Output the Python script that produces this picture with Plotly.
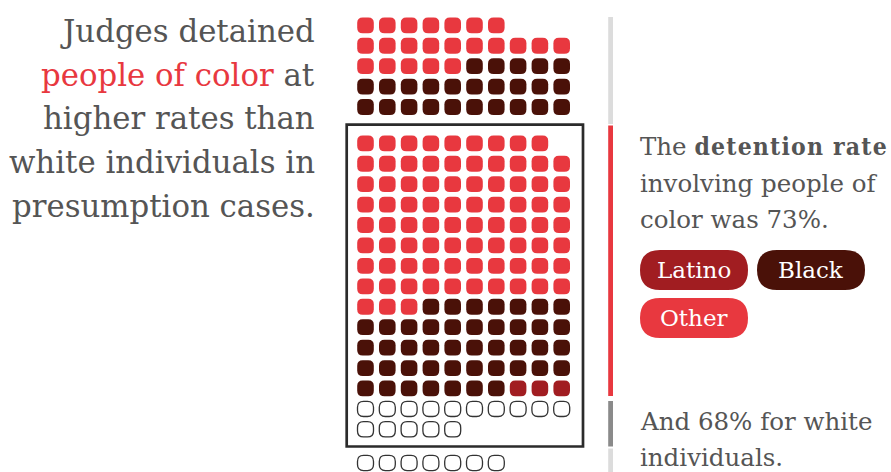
import math
import plotly.graph_objects as go

# one square per presumption case
groups = ["Other", "Black", "Latino"]
poc_released = [22, 25, 0]   # people of color, not detained
poc_detained = [82, 44, 3]   # people of color, detained
white_detained = 15
white_released = 7

title_lines = [
    "Judges detained",
    "<span style='color:#e8383f'>people of color</span> at",
    "higher rates than",
    "white individuals in",
    "presumption cases.",
]
poc_text = [
    "The <span style='font-family:DejaVu Serif Condensed;font-weight:bold;letter-spacing:1.2px'>detention rate</span>",
    "involving people of",
    "color was 73%.",
]
white_text = ["And 68% for white", "individuals."]

colors = {"Other": "#e8383f", "Black": "#4a1108", "Latino": "#a11d21"}
TEXT = "#555555"
FONT = "DejaVu Serif"

# grid geometry (pixels)
COLS = 10
X0, DX, DY = 365.5, 21.8, 20.43
CW, CH, CR = 16.6, 15.8, 5.5


def rrect(cx, cy, w, h, r):
    x0, x1, y0, y1 = cx - w / 2, cx + w / 2, cy - h / 2, cy + h / 2
    return (f"M{x0 + r},{y0} L{x1 - r},{y0} Q{x1},{y0} {x1},{y0 + r} "
            f"L{x1},{y1 - r} Q{x1},{y1} {x1 - r},{y1} L{x0 + r},{y1} "
            f"Q{x0},{y1} {x0},{y1 - r} L{x0},{y0 + r} Q{x0},{y0} {x0 + r},{y0} Z")


def grid(cats, y_top, partial_top=True):
    n = len(cats)
    rows = math.ceil(n / COLS)
    rem = n % COLS
    out, i = [], 0
    for r in range(rows):
        k = COLS
        if rem and ((partial_top and r == 0) or (not partial_top and r == rows - 1)):
            k = rem
        for c in range(k):
            out.append((X0 + c * DX, y_top + r * DY, cats[i]))
            i += 1
    return out


def expand(counts):
    seq = []
    for g, n in zip(groups, counts):
        seq += [g] * n
    return seq


cells = grid(expand(poc_released), 25.3)
cells += grid(expand(poc_detained), 143.3)
n_poc_rows = math.ceil(sum(poc_detained) / COLS)
cells += grid(["White"] * white_detained, 143.3 + n_poc_rows * DY, partial_top=False)
cells += grid(["White"] * white_released, 463, partial_top=False)

shapes = []
for x, y, g in cells:
    if g == "White":
        shapes.append(dict(type="path", path=rrect(x, y, CW - 0.6, CH - 0.6, 6),
                           xref="x", yref="y", fillcolor="white",
                           line=dict(color="#333333", width=1.3)))
    else:
        shapes.append(dict(type="path", path=rrect(x, y, CW, CH, CR),
                           xref="x", yref="y", fillcolor=colors[g], line_width=0))

# box around detained cases
shapes.append(dict(type="rect", xref="x", yref="y", x0=346.7, x1=583, y0=124.7, y1=446.5,
                   line=dict(color="#2b2b2b", width=2.7)))

# side bars
for y0, y1, col in [(17, 124, "#dcdcdc"), (125.5, 396, "#e8383f"),
                    (401, 446.5, "#8a8a8a"), (448.5, 475, "#dcdcdc")]:
    shapes.append(dict(type="rect", xref="x", yref="y", x0=608.2, x1=613, y0=y0, y1=y1,
                       fillcolor=col, line_width=0))

# legend pills
pills = [("Latino", 640, 748, 250, 290), ("Black", 757, 865, 250, 290),
         ("Other", 640, 748, 298, 338)]
annotations = []
for name, x0, x1, y0, y1 in pills:
    shapes.append(dict(type="path", xref="x", yref="y", fillcolor=colors[name], line_width=0,
                        path=rrect((x0 + x1) / 2, (y0 + y1) / 2, x1 - x0, y1 - y0, (y1 - y0) / 2)))
    annotations.append(dict(x=(x0 + x1) / 2, y=(y0 + y1) / 2, text=name, showarrow=False,
                            xanchor="center", yanchor="middle", borderpad=0,
                            font=dict(family=FONT, size=23, color="white")))

for i, line in enumerate(title_lines):
    annotations.append(dict(x=316, y=41.7 + 43.7 * i - 0.346 * 30.8, text=line, showarrow=False,
                            xanchor="right", yanchor="middle", borderpad=0,
                            font=dict(family=FONT, size=30.8, color=TEXT)))

for i, line in enumerate(poc_text):
    annotations.append(dict(x=639, y=155 + 36.5 * i - 0.346 * 24.5, text=line, showarrow=False,
                            xanchor="left", yanchor="middle", borderpad=0,
                            font=dict(family=FONT, size=24.5, color=TEXT)))

for i, line in enumerate(white_text):
    annotations.append(dict(x=639, y=430 + 35.5 * i - 0.346 * 24.5, text=line, showarrow=False,
                            xanchor="left", yanchor="middle", borderpad=0,
                            font=dict(family=FONT, size=24.5, color=TEXT)))

fig = go.Figure()
fig.update_layout(
    width=891, height=472,
    margin=dict(l=0, r=0, t=0, b=0),
    paper_bgcolor="white", plot_bgcolor="white",
    xaxis=dict(range=[0, 891], visible=False, fixedrange=True),
    yaxis=dict(range=[472, 0], visible=False, fixedrange=True),
    shapes=shapes, annotations=annotations, showlegend=False,
)
fig.write_html("out.html", config={"displayModeBar": False},
               post_script="document.body.style.margin='0';")
